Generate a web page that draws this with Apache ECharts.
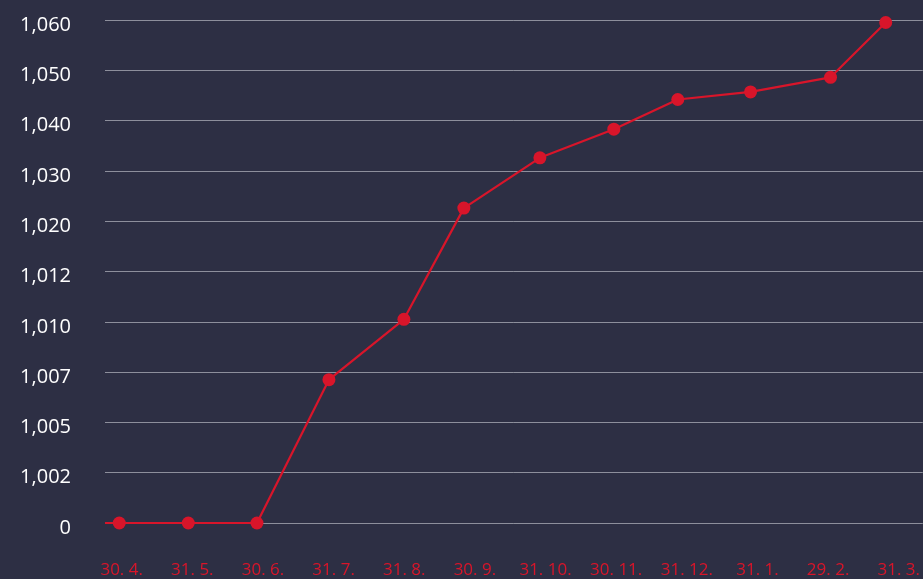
<!DOCTYPE html>
<html>
<head>
<meta charset="utf-8">
<script src="https://cdn.jsdelivr.net/npm/echarts@6/dist/echarts.min.js"></script>
<style>
  html, body { margin: 0; padding: 0; background: #2d2f44; }
  #main { width: 923px; height: 579px; }
</style>
</head>
<body>
<div id="main"></div>
<script>
// x axis labels (one per month end)
const xLabels = ["30. 4.", "31. 5.", "30. 6.", "31. 7.", "31. 8.", "30. 9.", "31. 10.", "30. 11.", "31. 12.", "31. 1.", "29. 2.", "31. 3."];
// y tick labels, they are not evenly spaced in value but are drawn evenly
const yTickLabels = ["0", "1,002", "1,005", "1,007", "1,010", "1,012", "1,020", "1,030", "1,040", "1,050", "1,060"];
const yTickValues = [0, 1002, 1005, 1007, 1010, 1012, 1020, 1030, 1040, 1050, 1060];
// point positions along x, in label units (0 = first label)
const pointX = [-0.236, -0.034, 0.943, 1.915, 2.934, 3.995, 4.844, 5.920, 6.967, 7.872, 8.902, 10.034, 10.816];
// point values, read against the y tick labels
const pointY = [0, 0, 0, 0, 1006.7, 1010.1, 1022.6, 1032.6, 1038.3, 1044.2, 1045.7, 1048.6, 1059.5];

// place a value on the evenly drawn tick scale
const toAxis = (v) => {
    for (let i = 1; i < yTickValues.length; i++) {
        if (v <= yTickValues[i]) {
            const a = yTickValues[i - 1], b = yTickValues[i];
            return i - 1 + (v - a) / (b - a);
        }
    }
    return yTickValues.length - 1;
};

const seriesData = pointX.map((x, i) => {
    const item = { value: [x, toAxis(pointY[i])] };
    if (i === 0) item.symbol = "none"; // line runs in from the left edge
    return item;
});

const red = "#d8152a";
const myChart = echarts.init(document.getElementById("main"));
const option = {
    backgroundColor: "#2d2f44",
    textStyle: { fontFamily: "Open Sans" },
    grid: { left: 105, right: 0, top: 20, bottom: 56 },
    xAxis: {
        type: "value",
        min: -0.236,
        max: 11.34,
        axisLine: { show: false },
        axisTick: { show: false },
        splitLine: { show: false },
        axisLabel: {
            customValues: xLabels.map((_, i) => i),
            formatter: (v) => xLabels[Math.round(v)],
            color: red,
            fontSize: 17,
            margin: 39,
            fontFamily: "Open Sans",
        },
    },
    yAxis: {
        type: "value",
        min: 0,
        max: yTickLabels.length - 1,
        interval: 1,
        axisLine: { show: false },
        axisTick: { show: false },
        splitLine: { lineStyle: { color: "#8d8f9c", width: 1 } },
        axisLabel: {
            formatter: (v) => "{t|" + yTickLabels[Math.round(v)] + "}",
            margin: 34,
            rich: {
                t: {
                    color: "#ffffff",
                    fontSize: 20,
                    fontFamily: "Open Sans",
                    padding: [10, 0, 0, 0],
                },
            },
        },
    },
    series: [{
        type: "line",
        data: seriesData,
        symbol: "circle",
        symbolSize: 13,
        clip: false,
        lineStyle: { color: red, width: 2.2 },
        itemStyle: { color: red },
        animation: false,
    }],
};
myChart.setOption(option);
</script>
</body>
</html>
